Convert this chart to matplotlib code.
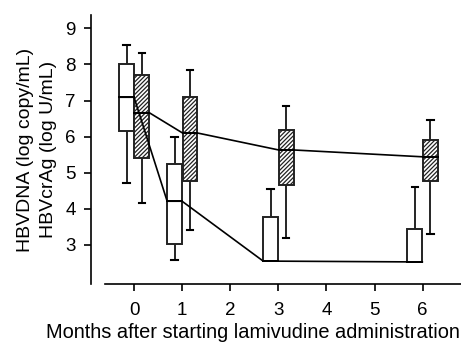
import matplotlib.pyplot as plt
from matplotlib.patches import Rectangle

plt.rcParams['font.family'] = ['Liberation Sans', 'DejaVu Sans']
plt.rcParams['hatch.linewidth'] = 0.9

months = [0, 1, 3, 6]

# HBVDNA (white boxes): whisker low, q1, median, q3, whisker high
dna_low = [4.71, 2.59, 2.55, 2.53]
dna_q1 = [6.15, 3.02, 2.55, 2.53]
dna_med = [7.09, 4.21, 2.55, 2.53]
dna_q3 = [8.01, 5.24, 3.78, 3.43]
dna_high = [8.54, 6.00, 4.54, 4.60]

# HBVcrAg (hatched boxes)
ag_low = [4.17, 3.40, 3.19, 3.30]
ag_q1 = [5.40, 4.77, 4.66, 4.78]
ag_med = [6.66, 6.10, 5.63, 5.44]
ag_q3 = [7.70, 7.10, 6.18, 5.90]
ag_high = [8.32, 7.84, 6.84, 6.46]

fig = plt.figure(figsize=(4.61, 3.48), dpi=100)
ax = fig.add_axes([91/461, 1 - 283.9/348, 370/461, (283.9 - 15.3)/348])

w = 0.31
off = 0.16
cap = 0.07


def draw_box(xc, lo, q1, med, q3, hi, hatch):
    # whiskers
    if hi > q3:
        ax.plot([xc, xc], [q3, hi], color='black', lw=1.2, zorder=2)
        ax.plot([xc - cap, xc + cap], [hi, hi], color='black', lw=1.5, zorder=2)
    if lo < q1:
        ax.plot([xc, xc], [lo, q1], color='black', lw=1.2, zorder=2)
        ax.plot([xc - cap, xc + cap], [lo, lo], color='black', lw=1.5, zorder=2)
    ax.add_patch(Rectangle((xc - w / 2, q1), w, q3 - q1, facecolor='white',
                           edgecolor='#222222', lw=1.4, hatch=hatch, zorder=3))
    ax.plot([xc - w / 2, xc + w / 2], [med, med], color='black', lw=1.4, zorder=4)


for i, m in enumerate(months):
    draw_box(m - off, dna_low[i], dna_q1[i], dna_med[i], dna_q3[i], dna_high[i], None)
    draw_box(m + off, ag_low[i], ag_q1[i], ag_med[i], ag_q3[i], ag_high[i], '////////')

# median trend lines, joined from box edge to box edge
for sign, med in ((-1, dna_med), (1, ag_med)):
    xs, ys = [], []
    for m, v in zip(months, med):
        xs += [m + sign * off - w / 2, m + sign * off + w / 2]
        ys += [v, v]
    ax.plot(xs, ys, color='black', lw=1.2, zorder=5)

ax.set_xlim(-0.9, 6.8)
ax.set_ylim(1.92, 9.36)
ax.set_xticks(range(0, 7))
ax.set_yticks(range(3, 10))
ax.spines['top'].set_visible(False)
ax.spines['right'].set_visible(False)
ax.spines['bottom'].set_bounds(-0.6, 6.8)
ax.spines['left'].set_linewidth(1.2)
ax.spines['bottom'].set_linewidth(1.2)
ax.tick_params(direction='out', length=5, width=1.2, labelsize=13.5, pad=6)
ax.tick_params(axis='x', pad=8)

ax.set_xlabel('Months after starting lamivudine administration', fontsize=14.4)
ax.xaxis.set_label_coords(0.438, -0.145)
ax.set_ylabel('HBVDNA (log copy/mL)\nHBVcrAg (log U/mL)', fontsize=14,
              labelpad=6, linespacing=1.45)

fig.savefig('out.png', dpi=100)
